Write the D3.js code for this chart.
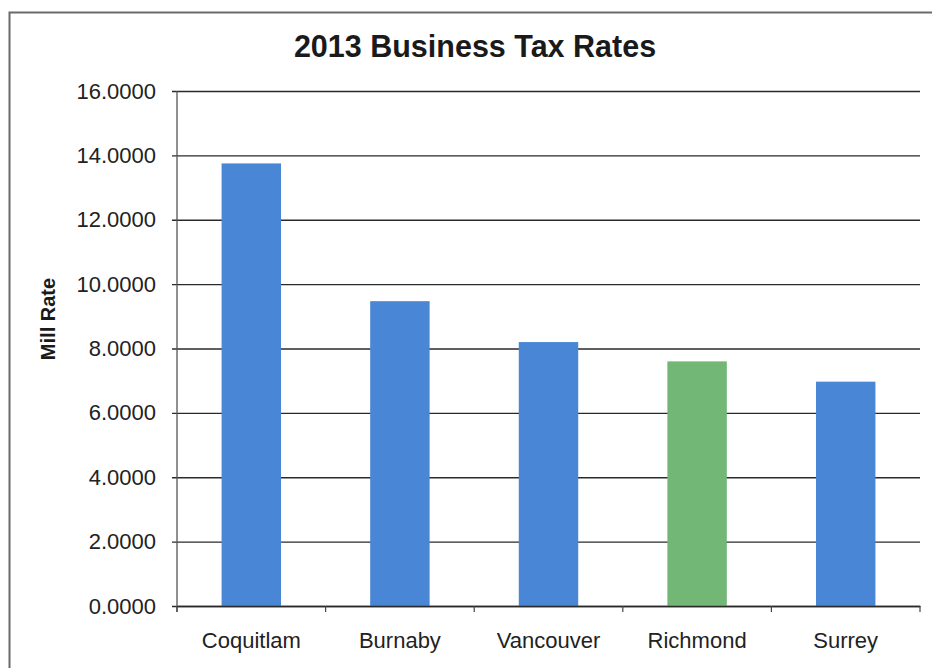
<!DOCTYPE html>
<html>
<head>
<meta charset="utf-8">
<script src="https://cdn.jsdelivr.net/npm/d3@7"></script>
<style>
  html, body { margin: 0; padding: 0; background: #fff; }
  svg { display: block; font-family: "Liberation Sans", Arial, sans-serif; }
</style>
</head>
<body>
<svg id="chart" width="932" height="668"></svg>
<script>
// 2013 business mill rates by municipality
const cities = ["Coquitlam", "Burnaby", "Vancouver", "Richmond", "Surrey"];
const millRates = [13.75, 9.47, 8.20, 7.60, 6.97];
const barColors = ["#4a86d6", "#4a86d6", "#4a86d6", "#72b776", "#4a86d6"];
const yTicks = [0, 2, 4, 6, 8, 10, 12, 14, 16];

const W = 932, H = 668;
const margin = { top: 91, right: 12, bottom: 62, left: 177 };
const svg = d3.select("#chart");

// outer frame (left and top edges visible)
svg.append("path")
  .attr("d", `M9.5,${H} L9.5,12.5 L${W},12.5`)
  .attr("fill", "none")
  .attr("stroke", "#6a6a6a")
  .attr("stroke-width", 2);

const x = d3.scaleBand()
  .domain(cities)
  .range([margin.left, W - margin.right])
  .padding(0);

const y = d3.scaleLinear()
  .domain([0, 16])
  .range([H - margin.bottom, margin.top]);

// horizontal gridlines with left tick marks
const yAxis = d3.axisLeft(y)
  .tickValues(yTicks)
  .tickSize(-(W - margin.right - margin.left))
  .tickPadding(21)
  .tickFormat(d3.format(".4f"));

const gy = svg.append("g")
  .attr("transform", `translate(${margin.left},0)`)
  .call(yAxis);
gy.select(".domain").remove();
gy.selectAll(".tick line")
  .attr("x1", -5)
  .attr("stroke", "#2a2a2a")
  .attr("stroke-width", 1.3);
gy.selectAll(".tick text")
  .attr("fill", "#222")
  .attr("font-size", 22);

// bars, 40% of each category band
const barFrac = 0.4;
svg.append("g")
  .selectAll("rect")
  .data(cities)
  .join("rect")
  .attr("x", (d) => x(d) + x.bandwidth() * (1 - barFrac) / 2)
  .attr("width", x.bandwidth() * barFrac)
  .attr("y", (d, i) => y(millRates[i]))
  .attr("height", (d, i) => y(0) - y(millRates[i]))
  .attr("fill", (d, i) => barColors[i]);

// vertical axis line
svg.append("line")
  .attr("x1", margin.left).attr("x2", margin.left)
  .attr("y1", y(16)).attr("y2", y(0) + 6)
  .attr("stroke", "#555")
  .attr("stroke-width", 1.3);

// category axis with boundary ticks
const gx = svg.append("g")
  .attr("transform", `translate(0,${y(0)})`)
  .call(d3.axisBottom(x).tickSize(0).tickPadding(26));
gx.select(".domain")
  .attr("stroke", "#2a2a2a")
  .attr("stroke-width", 1.3);
gx.selectAll(".tick text")
  .attr("fill", "#222")
  .attr("font-size", 22);

const bounds = cities.map((c) => x(c)).concat([x(cities[cities.length - 1]) + x.bandwidth()]);
gx.selectAll("line.bound")
  .data(bounds)
  .join("line")
  .attr("class", "bound")
  .attr("x1", (d) => d).attr("x2", (d) => d)
  .attr("y1", 0).attr("y2", 6)
  .attr("stroke", "#444")
  .attr("stroke-width", 1.2);

// title
svg.append("text")
  .attr("x", 475)
  .attr("y", 57)
  .attr("text-anchor", "middle")
  .attr("font-size", 30.5)
  .attr("font-weight", "bold")
  .attr("fill", "#1a1a1a")
  .text("2013 Business Tax Rates");

// y-axis title
svg.append("text")
  .attr("transform", `translate(55,319) rotate(-90)`)
  .attr("text-anchor", "middle")
  .attr("font-size", 20)
  .attr("font-weight", "bold")
  .attr("fill", "#1a1a1a")
  .text("Mill Rate");
</script>
</body>
</html>
